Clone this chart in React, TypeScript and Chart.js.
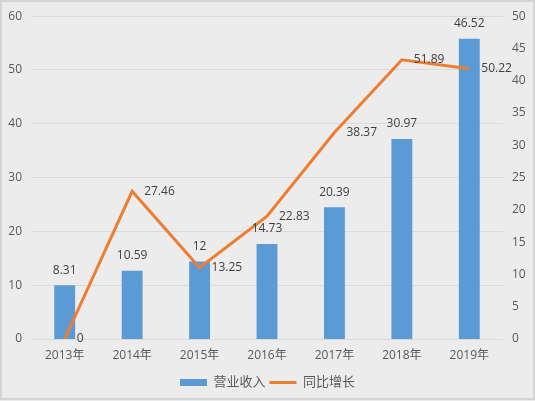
import { useEffect, useRef } from 'react';
import { Chart, registerables } from 'chart.js';
Chart.register(...registerables);

const YEARS = ['2013年', '2014年', '2015年', '2016年', '2017年', '2018年', '2019年'];
const REVENUE = [8.31, 10.59, 12, 14.73, 20.39, 30.97, 46.52];
const GROWTH = [0, 27.46, 13.25, 22.83, 38.37, 51.89, 50.22];

const FONT = '"Open Sans", "Noto Sans CJK SC", sans-serif';
const BAR_COLOR = '#5B9BD5';
const LINE_COLOR = '#ED7D31';

// light grey card with a thin border behind the whole chart
const backgroundPlugin = {
  id: 'cardBackground',
  beforeDraw(chart: Chart) {
    const { ctx, width, height } = chart;
    ctx.save();
    ctx.fillStyle = '#ececec';
    ctx.fillRect(0, 0, width, height);
    ctx.strokeStyle = '#d4d4d4';
    ctx.lineWidth = 2;
    ctx.strokeRect(1, 1, width - 2, height - 3);
    ctx.restore();
  }
};

// value labels: above the bars, to the right of the line points
const valueLabels = {
  id: 'valueLabels',
  afterDatasetsDraw(chart: Chart) {
    const { ctx } = chart;
    ctx.save();
    ctx.font = `12px ${FONT}`;
    ctx.fillStyle = '#404040';
    ctx.textBaseline = 'middle';
    chart.data.datasets.forEach((ds, i) => {
      const meta = chart.getDatasetMeta(i);
      meta.data.forEach((el: any, j) => {
        const v = ds.data[j] as number;
        if (meta.type === 'bar') {
          ctx.textAlign = 'center';
          ctx.fillText(String(v), el.x, el.y - 15);
        } else {
          ctx.textAlign = 'left';
          ctx.fillText(String(v), el.x + 12, el.y);
        }
      });
    });
    ctx.restore();
  }
};

function RevenueChart() {
  const canvasRef = useRef<HTMLCanvasElement>(null);
  const chartRef = useRef<Chart | null>(null);

  useEffect(() => {
    if (!canvasRef.current) return;
    if (chartRef.current) chartRef.current.destroy();
    const ctx = canvasRef.current.getContext('2d');
    if (!ctx) return;

    chartRef.current = new Chart(ctx, {
      type: 'bar',
      data: {
        labels: YEARS,
        datasets: [
          {
            type: 'bar',
            label: '营业收入',
            data: REVENUE,
            backgroundColor: BAR_COLOR,
            borderWidth: 0,
            pointStyle: 'rect',
            barPercentage: 0.31,
            categoryPercentage: 1,
            yAxisID: 'y1',
            order: 1
          },
          {
            type: 'line',
            label: '同比增长',
            data: GROWTH,
            borderColor: LINE_COLOR,
            backgroundColor: LINE_COLOR,
            borderWidth: 3,
            pointRadius: 0,
            pointStyle: 'line',
            tension: 0,
            yAxisID: 'y',
            order: 0
          }
        ]
      },
      options: {
        responsive: false,
        animation: false,
        layout: { padding: { top: 15, bottom: 2, left: 0, right: 0 } },
        scales: {
          x: {
            grid: { display: false },
            border: { display: false },
            ticks: { color: '#595959', font: { family: FONT, size: 12 }, padding: 1 },
            afterFit: (s: any) => { s.height = 33; }
          },
          y: {
            position: 'left',
            min: 0,
            max: 60,
            ticks: { stepSize: 10, color: '#595959', font: { family: FONT, size: 12 }, padding: 9 },
            grid: { color: '#d9d9d9', lineWidth: 1, drawTicks: false },
            border: { display: false },
            afterFit: (s: any) => { s.width = 31; }
          },
          y1: {
            position: 'right',
            min: 0,
            max: 50,
            ticks: { stepSize: 5, color: '#595959', font: { family: FONT, size: 12 }, padding: 9 },
            grid: { display: false, drawTicks: false },
            border: { display: false },
            afterFit: (s: any) => { s.width = 32; }
          }
        },
        plugins: {
          legend: {
            position: 'bottom',
            labels: {
              color: '#595959',
              font: { family: FONT, size: 13 },
              usePointStyle: true,
              pointStyleWidth: 27,
              boxHeight: 7,
              padding: 4,
              sort: (a: any, b: any) => a.datasetIndex - b.datasetIndex
            }
          },
          tooltip: { enabled: false }
        }
      },
      plugins: [backgroundPlugin, valueLabels]
    });

    return () => {
      if (chartRef.current) {
        chartRef.current.destroy();
        chartRef.current = null;
      }
    };
  }, []);

  return <canvas ref={canvasRef} width={535} height={401} style={{ display: 'block' }} />;
}

export default function App() {
  useEffect(() => {
    document.body.style.margin = '0';
  }, []);
  return <RevenueChart />;
}
